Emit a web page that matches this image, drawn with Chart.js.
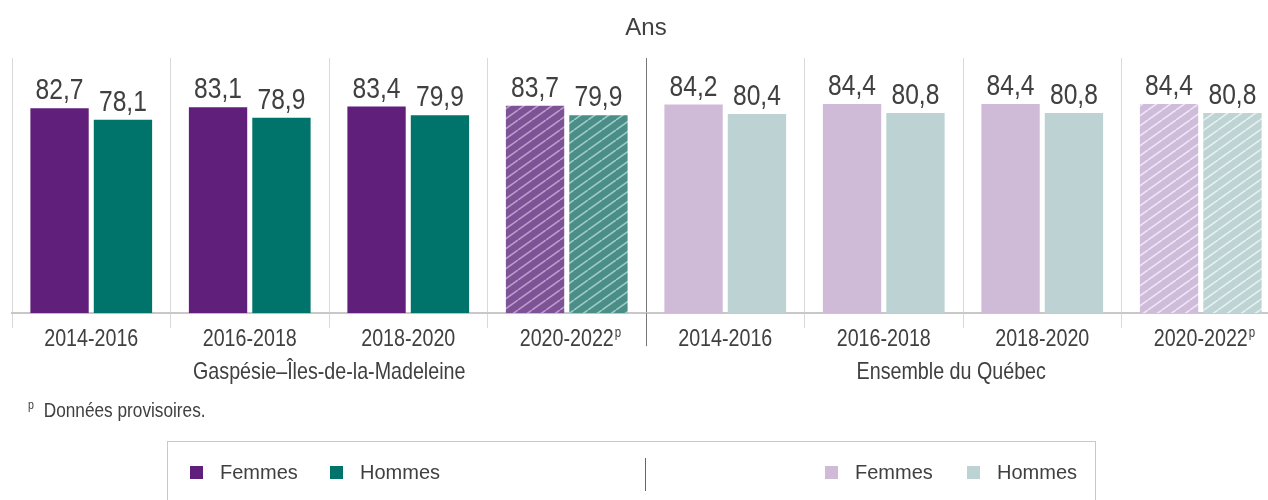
<!DOCTYPE html>
<html lang="fr">
<head>
  <meta charset="UTF-8" />
  <title>Espérance de vie à la naissance</title>
  <script src="https://cdn.jsdelivr.net/npm/chart.js"></script>
  <style>
    html, body { margin: 0; padding: 0; background: #fff; overflow: hidden; }
    #wrap { position: relative; width: 1280px; height: 500px; }
    #note { position: absolute; left: 28px; top: 397px; font: 21px 'Liberation Sans', Arial, sans-serif; color: #404040; transform: scaleX(0.82); transform-origin: left top; white-space: nowrap; }
    #note sup { font-size: 13px; margin-right: 12px; }
    #legend { position: absolute; left: 167px; top: 441px; width: 929px; height: 80px; border: 1px solid #c8c8c8; box-sizing: border-box; font: 20px 'Liberation Sans', Arial, sans-serif; color: #404040; }
    .item { position: absolute; top: 19px; display: flex; align-items: center; }
    .item span.sw { display: inline-block; width: 13px; height: 13px; margin-right: 17px; }
    #legend .sep { position: absolute; left: 477px; top: 16px; width: 1px; height: 33px; background: #666; }
  </style>
</head>
<body>
  <div id="wrap">
    <canvas id="chart"></canvas>
    <div id="note"><sup>p</sup>Données provisoires.</div>
    <div id="legend">
      <div class="item" style="left:22px"><span class="sw" style="background:#5f1f7a"></span>Femmes</div>
      <div class="item" style="left:162px"><span class="sw" style="background:#00736a"></span>Hommes</div>
      <div class="sep"></div>
      <div class="item" style="left:657px"><span class="sw" style="background:#cfbbd8"></span>Femmes</div>
      <div class="item" style="left:799px"><span class="sw" style="background:#bdd2d3"></span>Hommes</div>
    </div>
  </div>

  <script>
    const categories = ['2014-2016', '2016-2018', '2018-2020', '2020-2022', '2014-2016', '2016-2018', '2018-2020', '2020-2022'];
    const provisional = [false, false, false, true, false, false, false, true];
    const femmes = [82.7, 83.1, 83.4, 83.7, 84.2, 84.4, 84.4, 84.4];
    const hommes = [78.1, 78.9, 79.9, 79.9, 80.4, 80.8, 80.8, 80.8];
    const regions = ['Gaspésie–Îles-de-la-Madeleine', 'Ensemble du Québec'];

    const FONT = "'Liberation Sans', Arial, sans-serif";
    const TEXT = '#404040';
    const SQUEEZE = 0.82; // no narrow font installed, so squeeze the regular one

    function narrowText(ctx, text, x, y, size) {
      ctx.save();
      ctx.font = size + 'px ' + FONT;
      ctx.translate(x, y);
      ctx.scale(SQUEEZE, 1);
      ctx.fillText(text, 0, 0);
      ctx.restore();
    }

    function hatch(base, line) {
      const c = document.createElement('canvas');
      c.width = 14; c.height = 10;
      const g = c.getContext('2d');
      g.fillStyle = base;
      g.fillRect(0, 0, 14, 10);
      g.strokeStyle = line;
      g.lineWidth = 1.6;
      [-14, 0, 14].forEach(dx => {
        g.beginPath();
        g.moveTo(dx, 10);
        g.lineTo(dx + 14, 0);
        g.stroke();
      });
      return g.createPattern(c, 'repeat');
    }

    const femColors = [
      '#5f1f7a', '#5f1f7a', '#5f1f7a', hatch('#7d5396', '#b99dcb'),
      '#cfbbd8', '#cfbbd8', '#cfbbd8', hatch('#cfbcdb', '#efe6f3')
    ];
    const homColors = [
      '#00736a', '#00736a', '#00736a', hatch('#4a8e87', '#9fcbc6'),
      '#bdd2d3', '#bdd2d3', '#bdd2d3', hatch('#bed3d4', '#e8f0f0')
    ];

    // value labels, tick labels, region names, title
    const extras = {
      id: 'extras',
      afterDatasetsDraw(chart) {
        const ctx = chart.ctx;
        ctx.save();
        ctx.fillStyle = TEXT;
        ctx.textAlign = 'center';
        ctx.textBaseline = 'alphabetic';
        chart.data.datasets.forEach((ds, i) => {
          chart.getDatasetMeta(i).data.forEach((bar, j) => {
            narrowText(ctx, ds.data[j].toFixed(1).replace('.', ','), bar.x, bar.y - 9, 30);
          });
        });
        ctx.restore();
      },
      afterDraw(chart) {
        const ctx = chart.ctx;
        const x = chart.scales.x;
        const area = chart.chartArea;
        const half = (x.getPixelForValue(1) - x.getPixelForValue(0)) / 2;
        const sepX = Math.round(x.getPixelForValue(3) + half) + 0.5;
        ctx.save();
        // longer dark separator between the two regions
        ctx.strokeStyle = '#777';
        ctx.lineWidth = 1;
        ctx.beginPath();
        ctx.moveTo(sepX, area.bottom);
        ctx.lineTo(sepX, area.bottom + 33);
        ctx.stroke();

        ctx.fillStyle = TEXT;
        ctx.textAlign = 'center';
        ctx.textBaseline = 'middle';

        // category labels (+ superscript p)
        ctx.font = '24px ' + FONT;
        const w = ctx.measureText('2020-2022').width * SQUEEZE;
        categories.forEach((c, i) => {
          const cx = x.getPixelForValue(i);
          narrowText(ctx, c, cx, area.bottom + 26, 24);
          if (provisional[i]) {
            ctx.textAlign = 'left';
            narrowText(ctx, 'p', cx + w / 2 + 1, area.bottom + 20, 14);
            ctx.textAlign = 'center';
          }
        });

        narrowText(ctx, regions[0], (area.left + sepX) / 2, 372, 24);
        narrowText(ctx, regions[1], (sepX + Math.min(area.right, 1268)) / 2 - 6, 372, 24);

        // title
        ctx.font = '24px ' + FONT;
        ctx.fillText('Ans', (area.left + area.right) / 2, 28);
        ctx.restore();
      }
    };

    new Chart(document.getElementById('chart'), {
      type: 'bar',
      data: {
        labels: categories,
        datasets: [
          { label: 'Femmes', data: femmes, backgroundColor: femColors },
          { label: 'Hommes', data: hommes, backgroundColor: homColors }
        ]
      },
      options: {
        responsive: true,
        maintainAspectRatio: false,
        animation: false,
        categoryPercentage: 0.8,
        barPercentage: 0.92,
        layout: { padding: { left: 12, right: 0, top: 58, bottom: 151 } },
        plugins: {
          legend: { display: false },
          tooltip: { enabled: false }
        },
        scales: {
          x: {
            grid: {
              offset: true,
              tickLength: 15,
              color: c => c.index === 4 ? '#777' : '#d9d9d9',
              tickColor: c => c.index === 4 ? '#777' : '#d9d9d9'
            },
            border: { color: '#c8c8c8', width: 2 },
            ticks: { color: 'rgba(0,0,0,0)', padding: -4, font: { family: FONT, size: 24 } }
          },
          y: {
            display: false,
            min: 0,
            max: 103
          }
        }
      },
      plugins: [extras]
    });
  </script>
</body>
</html>
